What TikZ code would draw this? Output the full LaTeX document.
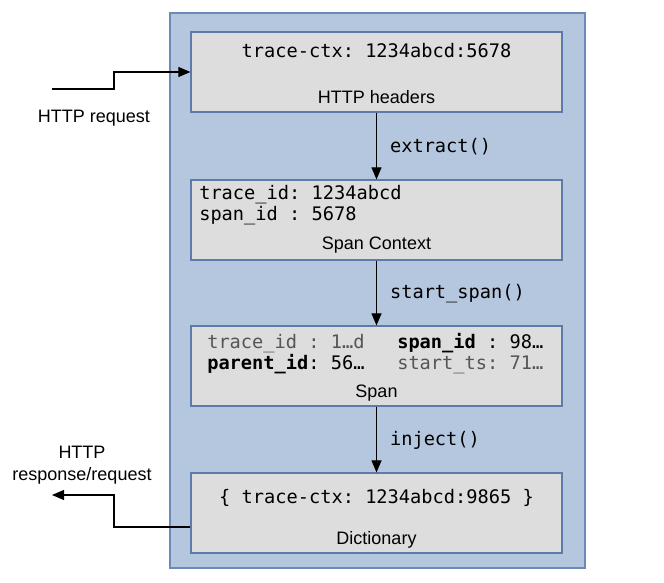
\documentclass[tikz,border=0pt]{standalone}
\usepackage{fontspec}
\setmainfont{Liberation Sans}
\setmonofont{DejaVu Sans Mono}
\usetikzlibrary{arrows.meta}
\definecolor{panelfill}{RGB}{180,199,222}
\definecolor{paneldraw}{RGB}{108,138,180}
\definecolor{boxfill}{RGB}{221,221,221}
\definecolor{boxdraw}{RGB}{92,122,170}
\definecolor{dimtext}{RGB}{85,85,85}
\tikzset{
  panel/.style={draw=paneldraw, fill=panelfill, line width=0.9pt, minimum width=311.25pt, minimum height=416.25pt},
  box/.style={draw=boxdraw, fill=boxfill, line width=0.9pt, minimum width=278.25pt, minimum height=60pt},
  txt/.style={inner sep=0pt, font=\fontsize{13.5}{16}\selectfont},
  code/.style={txt, font=\fontsize{14}{16}\selectfont\ttfamily},
  flow/.style={draw=black, line width=0.8pt, -{Triangle[length=9pt, width=7.5pt]}}
}
\begin{document}
\begin{tikzpicture}[x=0.75pt, y=-0.75pt]
  \useasboundingbox (0,0) rectangle (664,582);
  \node[panel] (panel) at (377.5,290.5) {};
  \node[box] (hdr) at (376.5,72) {};
  \node[box] (ctx) at (376.5,220) {};
  \node[box] (span) at (376.5,366) {};
  \node[box] (dict) at (376.5,513) {};

  \node[code, anchor=base] (hdrkey) at (376.5,57.5) {trace-ctx: 1234abcd:5678};
  \node[txt, anchor=base] (hdrname) at (376.5,103.5) {HTTP headers};

  \node[code, anchor=base west] (ctxtrace) at (199,199.5) {trace\_id: 1234abcd};
  \node[code, anchor=base west] (ctxspan) at (199,220.5) {span\_id : 5678};
  \node[txt, anchor=base] (ctxname) at (376.5,249.5) {Span Context};

  \node[code, anchor=base west, text=dimtext] (spantrace) at (207,348.5) {trace\_id : 1…d};
  \node[code, anchor=base west] (spanparent) at (207,369.5) {\textbf{parent\_id}: 56…};
  \node[code, anchor=base west] (spanid) at (397,348.5) {\textbf{span\_id} : 98…};
  \node[code, anchor=base west, text=dimtext] (spanstart) at (397,369.5) {start\_ts: 71…};
  \node[txt, anchor=base] (spanname) at (376.5,397.5) {Span};

  \node[code, anchor=base] (dictkey) at (376.5,503.5) {\{ trace-ctx: 1234abcd:9865 \}};
  \node[txt, anchor=base] (dictname) at (376.5,544.5) {Dictionary};

  \node[txt, anchor=base] (reqlabel) at (94,122.5) {HTTP request};
  \node[txt, anchor=base, align=center] (resplabel) at (82,480.5) {HTTP\\[0.5pt]response/request};

  \coordinate (reqin) at (52,89);
  \coordinate (respout) at (52,495);
  \draw[flow] (reqin) -- (114,89) |- (hdr.west);
  \draw[flow] ([yshift=-10.5pt]dict.west) -| (114,495) -- (respout);

  \draw[flow] (hdr.south) -- (ctx.north) node[code, midway, anchor=west, xshift=9.75pt, yshift=-0.75pt] {extract()};
  \draw[flow] (ctx.south) -- (span.north) node[code, midway, anchor=west, xshift=9.75pt, yshift=-0.75pt] {start\_span()};
  \draw[flow] (span.south) -- (dict.north) node[code, midway, anchor=west, xshift=9.75pt, yshift=-0.75pt] {inject()};
\end{tikzpicture}
\end{document}
